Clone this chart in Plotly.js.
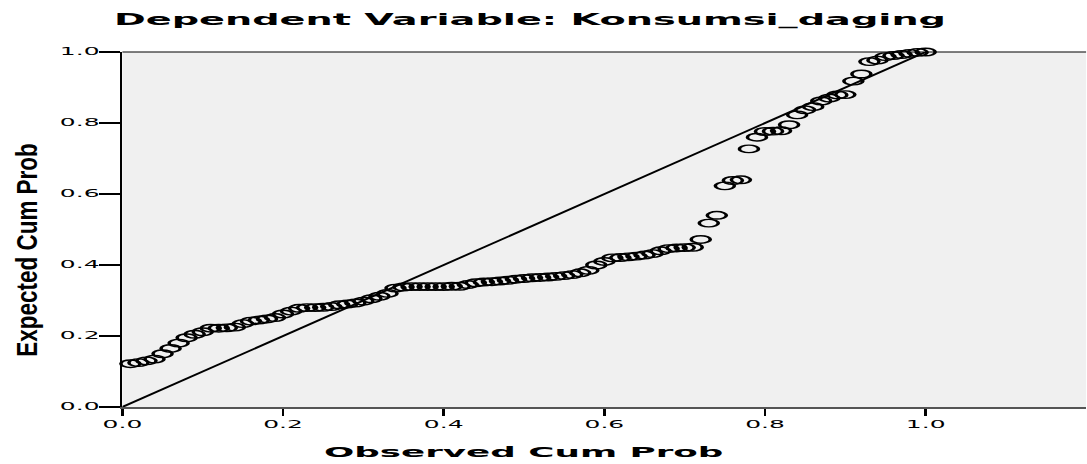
<!DOCTYPE html>
<html>
<head>
<meta charset="utf-8">
<script src="https://cdn.plot.ly/plotly-3.0.1.min.js"></script>
<style>
  html, body { margin: 0; padding: 0; background: #ffffff; overflow: hidden; }
  #wrap { width: 1087px; height: 464px; overflow: hidden; position: relative; }
  #plot { height: 464px; transform-origin: 0 0; }
</style>
</head>
<body>
<div id="wrap"><div id="plot"></div></div>
<script>
// ---- data ----
const observedCumProb = [
  0.01,0.02,0.03,0.04,0.05,0.06,0.07,0.08,0.09,0.10,
  0.11,0.12,0.13,0.14,0.15,0.16,0.17,0.18,0.19,0.20,
  0.21,0.22,0.23,0.24,0.25,0.26,0.27,0.28,0.29,0.30,
  0.31,0.32,0.33,0.34,0.35,0.36,0.37,0.38,0.39,0.40,
  0.41,0.42,0.43,0.44,0.45,0.46,0.47,0.48,0.49,0.50,
  0.51,0.52,0.53,0.54,0.55,0.56,0.57,0.58,0.59,0.60,
  0.61,0.62,0.63,0.64,0.65,0.66,0.67,0.68,0.69,0.70,
  0.71,0.72,0.73,0.74,0.75,0.76,0.77,0.78,0.79,0.80,
  0.81,0.82,0.83,0.84,0.85,0.86,0.87,0.88,0.89,0.90,
  0.91,0.92,0.93,0.94,0.95,0.96,0.97,0.98,0.99,1.00
];
const expectedCumProb = [
  0.122,0.125,0.130,0.135,0.150,0.165,0.180,0.195,0.205,0.212,
  0.222,0.222,0.223,0.225,0.235,0.242,0.245,0.248,0.252,0.262,
  0.270,0.278,0.280,0.280,0.281,0.283,0.288,0.290,0.293,0.298,
  0.305,0.312,0.320,0.335,0.338,0.339,0.339,0.339,0.339,0.339,
  0.340,0.340,0.345,0.350,0.352,0.353,0.355,0.357,0.360,0.362,
  0.364,0.365,0.366,0.368,0.370,0.373,0.378,0.385,0.400,0.410,
  0.420,0.421,0.423,0.425,0.428,0.432,0.440,0.446,0.448,0.449,
  0.450,0.472,0.518,0.540,0.623,0.638,0.640,0.727,0.760,0.776,
  0.777,0.778,0.795,0.823,0.837,0.846,0.862,0.870,0.879,0.880,
  0.918,0.938,0.973,0.977,0.987,0.990,0.993,0.996,0.999,1.000
];
const refLineX = [0, 1];
const refLineY = [0, 1];
const tickValues = [0, 0.2, 0.4, 0.6, 0.8, 1.0];
const tickLabels = ['0.0', '0.2', '0.4', '0.6', '0.8', '1.0'];
const chartTitle = 'Dependent Variable: Konsumsi_daging';
const xTitle = 'Observed Cum Prob';
const yTitle = 'Expected Cum Prob';

// ---- horizontal stretch of the original picture ----
const S = 2.55;
const W = 1087, H = 464;
const W0 = W / S;
const plotDiv = document.getElementById('plot');
plotDiv.style.width = W0 + 'px';
plotDiv.style.transform = 'scaleX(' + S + ')';

const traces = [
  {
    x: refLineX, y: refLineY, type: 'scatter', mode: 'lines',
    line: { color: '#000000', width: 1.4 }, hoverinfo: 'skip'
  },
  {
    x: observedCumProb, y: expectedCumProb, type: 'scatter', mode: 'markers',
    cliponaxis: false,
    marker: { symbol: 'circle-open', size: 7.5, color: '#000000', line: { width: 1.4, color: '#000000' } }
  }
];

const tickFont = { family: 'DejaVu Sans, Verdana, sans-serif', size: 9.8, color: '#000000' };

const layout = {
  width: W0, height: H,
  margin: { l: 122 / S, r: 0, t: 52, b: 57, pad: 0 },
  paper_bgcolor: '#ffffff',
  plot_bgcolor: '#f0f0f0',
  showlegend: false,
  title: {
    text: chartTitle,
    font: { family: 'DejaVu Sans, Verdana, sans-serif', size: 15, weight: 'bold', color: '#000000' },
    xref: 'container', x: 530 / W, xanchor: 'center',
    yref: 'container', y: 1 - 20 / H, yanchor: 'middle'
  },
  xaxis: {
    range: [0, 1.2], tickvals: tickValues, ticktext: tickLabels,
    ticks: 'outside', ticklen: 7, tickwidth: 1, tickcolor: '#000000',
    showline: true, linecolor: '#555555', linewidth: 2,
    showgrid: false, zeroline: false, tickfont: tickFont, automargin: false
  },
  yaxis: {
    range: [0, 1], tickvals: tickValues, ticktext: tickLabels,
    ticks: 'outside', ticklen: 8, tickwidth: 1.3, tickcolor: '#000000',
    ticklabelstandoff: -2,
    showline: true, linecolor: '#000000', linewidth: 1,
    showgrid: false, zeroline: false, tickfont: tickFont, automargin: false,
    title: {
      text: yTitle,
      font: { family: 'Liberation Sans, Arial, sans-serif', size: 22.5, weight: 'bold', color: '#000000' }
    }
  },
  annotations: [{
    text: xTitle, showarrow: false,
    xref: 'paper', x: (524 - 122) / (W - 122), xanchor: 'center',
    yref: 'paper', y: (407 - 452) / 355, yanchor: 'middle',
    font: { family: 'DejaVu Sans, Verdana, sans-serif', size: 14, weight: 'bold', color: '#000000' }
  }],
  shapes: [{
    type: 'line', xref: 'paper', yref: 'paper', x0: 0, x1: 1, y0: 1, y1: 1,
    line: { color: '#000000', width: 1 }, layer: 'above'
  }]
};

Plotly.newPlot(plotDiv, traces, layout, { staticPlot: true, displayModeBar: false }).then(function () {
  // keep the rotated y title narrow/tall like the reference despite the horizontal stretch
  const t = plotDiv.querySelector('text.ytitle');
  if (t) {
    if (t.parentNode && t.parentNode.removeAttribute) t.parentNode.removeAttribute('transform');
    const K = 1.3;
    const X = 37 / S, Y = 250;
    t.setAttribute('x', X);
    t.setAttribute('y', Y);
    t.setAttribute('transform',
      'translate(' + X + ',' + Y + ') scale(' + (K / S) + ',1) translate(' + (-X) + ',' + (-Y) + ') rotate(-90,' + X + ',' + Y + ')');
  }
});
</script>
</body>
</html>
